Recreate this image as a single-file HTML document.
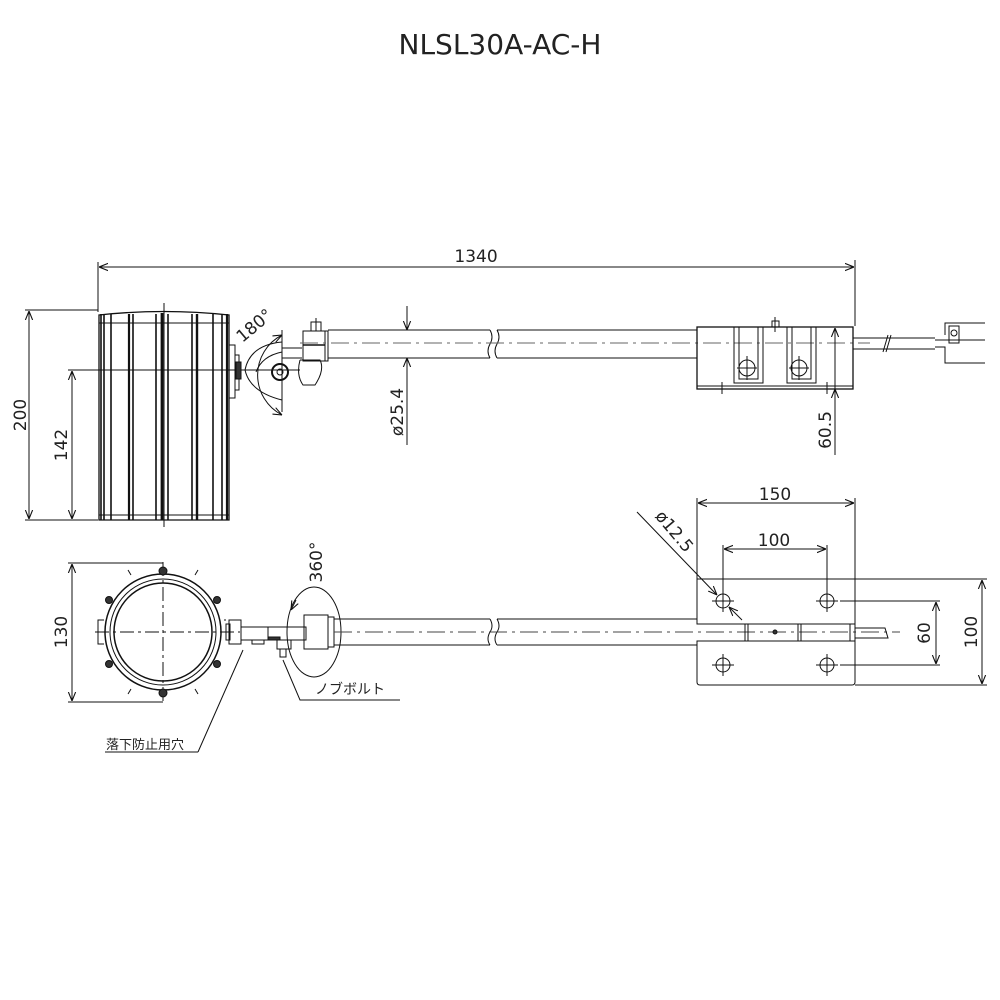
<!DOCTYPE html>
<html><head><meta charset="utf-8"><style>
html,body{margin:0;padding:0;background:#fff;}
svg{display:block;}
text{font-family:"DejaVu Sans","Liberation Sans","Noto Sans CJK JP",sans-serif;fill:#222;}
</style></head><body>
<svg width="1000" height="1000" viewBox="0 0 1000 1000" xmlns="http://www.w3.org/2000/svg">
<defs>
<marker id="a" viewBox="0 0 10 10" refX="10" refY="5" markerWidth="9" markerHeight="9" orient="auto-start-reverse" markerUnits="userSpaceOnUse"><path d="M0,1 L10,5 L0,9" fill="none" stroke="#111" stroke-width="1.2"/></marker>
</defs>
<text x="500" y="54" font-size="28" text-anchor="middle">NLSL30A-AC-H</text>

<g stroke="#111" fill="none" stroke-width="1">
<line x1="98" y1="262" x2="98" y2="312"/><line x1="855" y1="260" x2="855" y2="326"/>
<line x1="99" y1="267" x2="854" y2="267" marker-start="url(#a)" marker-end="url(#a)"/>
<path d="M99,315 Q164,308 229,315 L229,520 L99,520 Z" stroke-width="1.3"/>
<line x1="99" y1="323" x2="229" y2="323"/><line x1="99" y1="515" x2="229" y2="515"/>
<g stroke-width="1.6">
<line x1="101" y1="314" x2="101" y2="520"/><line x1="104" y1="314" x2="104" y2="520"/>
<line x1="111" y1="314" x2="111" y2="520"/>
<line x1="129" y1="314" x2="129" y2="520" stroke-width="2.2"/><line x1="133" y1="314" x2="133" y2="520"/>
<line x1="156" y1="314" x2="156" y2="520"/><line x1="162" y1="313" x2="162" y2="520" stroke-width="2.8"/><line x1="168" y1="314" x2="168" y2="520"/>
<line x1="192" y1="314" x2="192" y2="520"/><line x1="197" y1="314" x2="197" y2="520" stroke-width="2.4"/>
<line x1="213" y1="314" x2="213" y2="520"/><line x1="222" y1="314" x2="222" y2="520"/><line x1="227" y1="314" x2="227" y2="520" stroke-width="2.2"/>
</g>
<line x1="164" y1="303" x2="164" y2="527"/>
<line x1="25" y1="310" x2="98" y2="310"/><line x1="25" y1="520" x2="98" y2="520"/>
<line x1="29" y1="311" x2="29" y2="519" marker-start="url(#a)" marker-end="url(#a)"/>
<line x1="68" y1="370" x2="292" y2="370"/>
<line x1="72" y1="371" x2="72" y2="519" marker-start="url(#a)" marker-end="url(#a)"/>
<rect x="229" y="345" width="6" height="53"/><rect x="235" y="355" width="4" height="35"/>
<rect x="236" y="362" width="5" height="17" fill="#333"/>
<path d="M282,342 Q250,345 245,370 Q250,392 282,400"/>
<path d="M282,335 A45,45 0 0 0 282,415" marker-start="url(#a)" marker-end="url(#a)"/>
<path d="M282,352 Q262,356 256,372"/>
<line x1="282" y1="330" x2="282" y2="412"/>
<circle cx="280" cy="372" r="8" stroke-width="2"/><circle cx="280" cy="372" r="3"/>
<line x1="241" y1="370" x2="300" y2="370"/>
<path d="M282,348 L302,348 M282,358 L302,358"/>
<rect x="303" y="331" width="22" height="30"/><line x1="303" y1="345" x2="325" y2="345" stroke-width="1.5"/><rect x="325" y="331" width="3" height="30"/>
<rect x="311" y="322" width="10" height="9"/><line x1="316" y1="318" x2="316" y2="331"/>
<path d="M300,360 L320,360 Q325,370 315,385 L303,385 Q296,375 300,360"/>
<line x1="328" y1="330" x2="490" y2="330"/><line x1="328" y1="358" x2="490" y2="358"/>
<path d="M490,330 q4,7 0,14 q-4,7 0,14"/><path d="M497,330 q4,7 0,14 q-4,7 0,14"/>
<line x1="497" y1="330" x2="697" y2="330"/><line x1="497" y1="358" x2="697" y2="358"/>
<line x1="300" y1="343" x2="870" y2="343" stroke-dasharray="18,5,3,5" stroke="#666"/>
<line x1="407" y1="306" x2="407" y2="330" marker-end="url(#a)"/>
<line x1="407" y1="445" x2="407" y2="358" marker-end="url(#a)"/>
<rect x="697" y="327" width="156" height="62" stroke-width="1.3"/>
<line x1="697" y1="386" x2="853" y2="386"/>
<path d="M734,327 V383 H763 V327 M739,327 V379 H758 V327"/>
<path d="M787,327 V383 H816 V327 M792,327 V379 H811 V327"/>
<circle cx="747" cy="368" r="8"/><circle cx="799" cy="368" r="8"/>
<path d="M747,356 V380 M737,368 H757 M799,356 V380 M789,368 H809"/>
<rect x="772" y="321" width="7" height="6"/><line x1="775" y1="317" x2="775" y2="332"/>
<line x1="722" y1="382" x2="722" y2="394"/><line x1="827" y1="382" x2="827" y2="394"/>
<line x1="835" y1="328" x2="835" y2="455" marker-start="url(#a)"/>
<line x1="835" y1="400" x2="835" y2="389" marker-end="url(#a)"/>
<line x1="853" y1="338" x2="935" y2="338"/><line x1="853" y1="349" x2="935" y2="349"/>
<path d="M883,352 L888,335 M886,352 L891,335"/>
<path d="M935,340 L985,340 M935,347 L945,347 L945,363 L985,363 M945,335 L945,323 L985,323"/>
<rect x="949" y="326" width="10" height="17"/><circle cx="954" cy="333" r="3"/>
</g>
<text font-size="17" text-anchor="middle" transform="translate(476,262)">1340</text>
<text font-size="17" text-anchor="middle" transform="translate(26,415) rotate(-90)">200</text>
<text font-size="17" text-anchor="middle" transform="translate(67,445) rotate(-90)">142</text>
<text font-size="17" text-anchor="middle" transform="translate(403,412) rotate(-90)">ø25.4</text>
<text font-size="17" text-anchor="middle" transform="translate(831,430) rotate(-90)">60.5</text>
<text font-size="17" text-anchor="middle" transform="translate(258,330) rotate(-40)">180°</text>

<g stroke="#111" fill="none" stroke-width="1">
<circle cx="163" cy="632" r="58" stroke-width="1.5"/><circle cx="163" cy="632" r="53"/><circle cx="163" cy="632" r="49" stroke-width="1.5"/>
<line x1="95" y1="632" x2="240" y2="632" stroke-dasharray="14,4,3,4"/>
<line x1="163" y1="562" x2="163" y2="705" stroke-dasharray="14,4,3,4"/>
<g fill="#333"><circle cx="163" cy="571" r="4"/><circle cx="163" cy="693" r="4"/><circle cx="109" cy="600" r="3.5"/><circle cx="217" cy="600" r="3.5"/><circle cx="109" cy="664" r="3.5"/><circle cx="217" cy="664" r="3.5"/></g>
<path d="M131,575 l-3,-5 M195,575 l3,-5 M131,689 l-3,5 M195,689 l3,5 M104,620 h-6 v24 h6 M224,620 l2,0"/>
<line x1="68" y1="563" x2="163" y2="563"/><line x1="68" y1="702" x2="163" y2="702"/>
<line x1="72" y1="564" x2="72" y2="701" marker-start="url(#a)" marker-end="url(#a)"/>
<rect x="229" y="620" width="12" height="24"/><rect x="226" y="624" width="4" height="16"/>
<line x1="241" y1="627" x2="305" y2="627"/><line x1="241" y1="640" x2="290" y2="640"/>
<rect x="268" y="627" width="38" height="13"/><rect x="268" y="637" width="12" height="3" fill="#333"/>
<rect x="252" y="640" width="12" height="4"/>
<rect x="277" y="640" width="14" height="9"/><rect x="280" y="649" width="6" height="8"/>
<rect x="304" y="615" width="24" height="34"/><rect x="328" y="617" width="6" height="30"/>
<ellipse cx="314" cy="632" rx="27" ry="45"/>
<path d="M296,600 l-5,10" marker-end="url(#a)"/>
<line x1="334" y1="619" x2="490" y2="619"/><line x1="334" y1="645" x2="490" y2="645"/>
<path d="M490,619 q4,7 0,13 q-4,7 0,13"/><path d="M497,619 q4,7 0,13 q-4,7 0,13"/>
<line x1="497" y1="619" x2="697" y2="619"/><line x1="497" y1="645" x2="697" y2="645"/>
<line x1="334" y1="632" x2="900" y2="632" stroke-dasharray="18,5,3,5" stroke="#444"/>
<path d="M697,579 H855 V682 Q855,685 852,685 H700 Q697,685 697,682 V641 H700 M697,579 V624 H700"/>
<line x1="700" y1="624" x2="855" y2="624"/><line x1="700" y1="641" x2="855" y2="641"/>
<path d="M745,624 V641 M748,624 V641 M798,624 V641 M801,624 V641 M850,624 V641 M855,628 H885 L888,638 H855"/>
<circle cx="775" cy="632" r="2" fill="#333"/>
<g><circle cx="723" cy="601" r="7"/><circle cx="827" cy="601" r="7"/><circle cx="723" cy="665" r="7"/><circle cx="827" cy="665" r="7"/>
<path d="M723,590 V612 M712,601 H734 M827,590 V612 M816,601 H838 M723,654 V676 M712,665 H734 M827,654 V676 M816,665 H838"/></g>
<line x1="697" y1="498" x2="697" y2="579"/><line x1="855" y1="498" x2="855" y2="579"/>
<line x1="698" y1="503" x2="854" y2="503" marker-start="url(#a)" marker-end="url(#a)"/>
<line x1="723" y1="545" x2="723" y2="590"/><line x1="827" y1="545" x2="827" y2="590"/>
<line x1="724" y1="549" x2="826" y2="549" marker-start="url(#a)" marker-end="url(#a)"/>
<line x1="855" y1="579" x2="987" y2="579"/><line x1="855" y1="685" x2="987" y2="685"/>
<line x1="982" y1="580" x2="982" y2="684" marker-start="url(#a)" marker-end="url(#a)"/>
<line x1="840" y1="601" x2="940" y2="601"/><line x1="840" y1="665" x2="940" y2="665"/>
<line x1="936" y1="602" x2="936" y2="664" marker-start="url(#a)" marker-end="url(#a)"/>
<line x1="637" y1="512" x2="717" y2="595" marker-end="url(#a)"/>
<line x1="742" y1="620" x2="729" y2="607" marker-end="url(#a)"/>
<path d="M400,700 H300 L283,660" /><path d="M198,752 H105 M198,752 L243,650"/>
</g>
<text font-size="17" text-anchor="middle" transform="translate(322,562) rotate(-90)">360°</text>
<text font-size="17" text-anchor="middle" transform="translate(67,632) rotate(-90)">130</text>
<text font-size="17" x="775" y="500" text-anchor="middle">150</text>
<text font-size="17" x="774" y="546" text-anchor="middle">100</text>
<text font-size="17" text-anchor="middle" transform="translate(670,535) rotate(50)">ø12.5</text>
<text font-size="17" text-anchor="middle" transform="translate(930,633) rotate(-90)">60</text>
<text font-size="17" text-anchor="middle" transform="translate(977,632) rotate(-90)">100</text>
<text font-size="14" x="315" y="694">ノブボルト</text>
<text font-size="13" x="106" y="749">落下防止用穴</text>
</svg>
</body></html>
